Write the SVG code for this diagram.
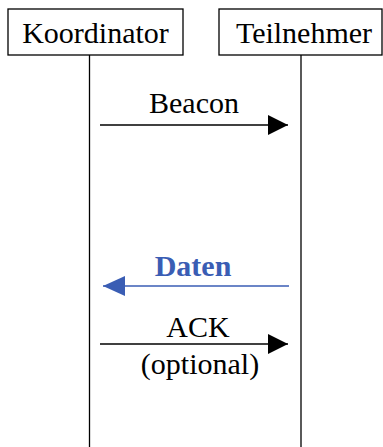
<svg xmlns="http://www.w3.org/2000/svg" width="383" height="447" viewBox="0 0 383 447">
  <style>
    .box { fill: #ffffff; stroke: #000000; stroke-width: 1.3; }
    .life { stroke: #000000; stroke-width: 1.3; fill: none; }
    .lbl { font-family: "Liberation Serif", "Times New Roman", serif; font-size: 30px; fill: #000000; text-anchor: middle; }
    .msg { stroke: #000000; stroke-width: 1.5; fill: none; }
    .blue { stroke: #3a5db4; }
    .bluetext { fill: #3a5db4; font-weight: bold; }
  </style>
  <defs>
    <marker id="arrowBlack" viewBox="0 0 20 20" refX="20" refY="10" markerWidth="20" markerHeight="20" markerUnits="userSpaceOnUse" orient="auto">
      <path d="M0,0 L20,10 L0,20 Z" fill="#000000"/>
    </marker>
    <marker id="arrowBlue" viewBox="0 0 22 20" refX="22" refY="10" markerWidth="22" markerHeight="20" markerUnits="userSpaceOnUse" orient="auto">
      <path d="M0,0 L22,10 L0,20 Z" fill="#3a5db4"/>
    </marker>
  </defs>

  <g id="koordinator">
    <rect class="box" x="8" y="9" width="175" height="46"/>
    <text class="lbl" x="95.5" y="43" font-size="31">Koordinator</text>
  </g>
  <g id="teilnehmer">
    <rect class="box" x="219" y="9" width="163" height="46"/>
    <text class="lbl" x="304" y="43">Teilnehmer</text>
  </g>

  <g id="connectors">
    <line class="life" x1="89.5" y1="55" x2="89.5" y2="447"/>
    <line class="life" x1="301" y1="55" x2="301" y2="447"/>

    <line class="msg" x1="100" y1="125" x2="288" y2="125" marker-end="url(#arrowBlack)"/>
    <text class="lbl" x="194" y="113">Beacon</text>

    <line class="msg blue" x1="289" y1="286" x2="103" y2="286" marker-end="url(#arrowBlue)"/>
    <text class="lbl bluetext" x="193" y="276">Daten</text>

    <line class="msg" x1="100" y1="344" x2="288" y2="344" marker-end="url(#arrowBlack)"/>
    <text class="lbl" x="198" y="337">ACK</text>
    <text class="lbl" x="200" y="374">(optional)</text>
  </g>
</svg>
